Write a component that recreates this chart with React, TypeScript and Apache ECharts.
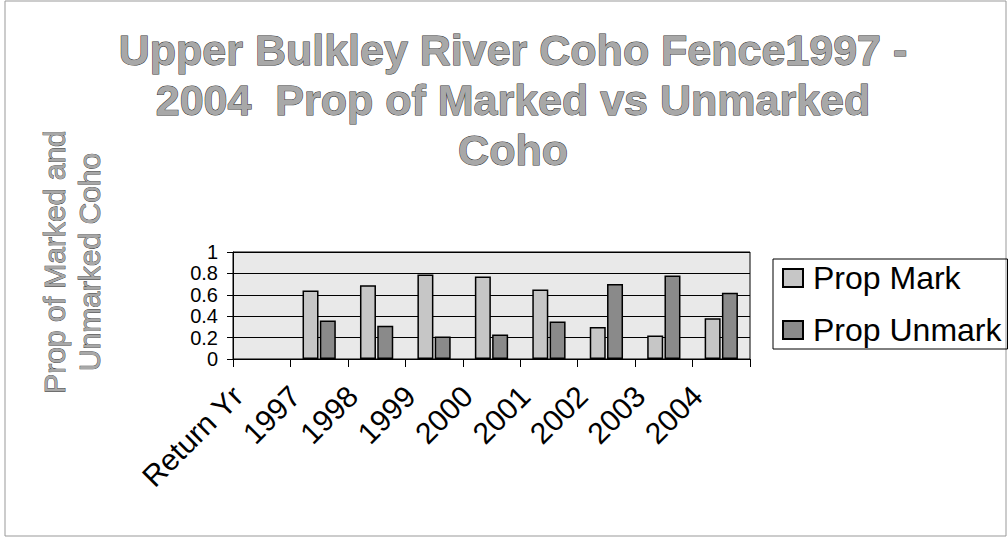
import React, { useEffect, useRef } from "react";
import * as echarts from "echarts";

const categories = ["Return Yr", "1997", "1998", "1999", "2000", "2001", "2002", "2003", "2004"];
const propMark = [null, 0.64, 0.69, 0.79, 0.77, 0.65, 0.3, 0.22, 0.38];
const propUnmark = [null, 0.36, 0.31, 0.21, 0.23, 0.35, 0.7, 0.78, 0.62];
const seriesNames = ["Prop Mark", "Prop Unmark"];
const titleText = "Upper Bulkley River Coho Fence1997 -\n2004  Prop of Marked vs Unmarked\nCoho";
const yTitleText = "Prop of Marked and\nUnmarked Coho";

export default function App() {
  const ref = useRef<HTMLDivElement>(null);
  useEffect(() => {
    if (!ref.current) return;
    const chart = echarts.init(ref.current, null, { renderer: "svg" });
    const font = "'Liberation Sans', Arial, sans-serif";
    chart.setOption({
      animation: false,
      backgroundColor: "#ffffff",
      textStyle: { fontFamily: font },
      grid: {
        left: 233,
        top: 252,
        width: 517,
        height: 107,
        show: true,
        backgroundColor: "#e9e9e9",
        borderColor: "#000",
        borderWidth: 1,
      },
      legend: {
        orient: "vertical",
        left: 773,
        top: 259,
        padding: [2, 6, 2, 9],
        itemGap: 18,
        itemWidth: 20,
        itemHeight: 18,
        icon: "rect",
        borderColor: "#000",
        borderWidth: 1,
        textStyle: { fontSize: 32, color: "#000", lineHeight: 34, fontFamily: font, padding: [0, 0, 0, 5] },
        data: seriesNames,
      },
      xAxis: {
        type: "category",
        data: categories,
        axisLine: { show: true, lineStyle: { color: "#000", width: 1 } },
        axisTick: { show: true, length: 8, lineStyle: { color: "#000" } },
        axisLabel: {
          interval: 0,
          rotate: 45,
          margin: 8,
          fontSize: 30,
          color: "#000",
          fontFamily: font,
          padding: [0, 34, 0, 0],
        },
      },
      yAxis: {
        type: "value",
        min: 0,
        max: 1,
        interval: 0.2,
        axisLine: { show: true, lineStyle: { color: "#000" } },
        axisTick: { show: true, length: 6, lineStyle: { color: "#000" } },
        splitLine: { show: true, lineStyle: { color: "#000", width: 1 } },
        axisLabel: {
          fontSize: 20,
          lineHeight: 17,
          color: "#000",
          margin: 15,
          fontFamily: font,
          showMinLabel: true,
          showMaxLabel: true,
          hideOverlap: false,
        },
      },
      graphic: [
        {
          type: "rect",
          shape: { x: 5, y: 1, width: 1001, height: 535 },
          style: { fill: "none", stroke: "#999", lineWidth: 1 },
          silent: true,
        },
        {
          type: "text",
          x: 513,
          y: 25,
          style: {
            text: titleText,
            align: "center",
            verticalAlign: "top",
            font: `bold 43px ${font}`,
            lineHeight: 50,
            fill: "#a8a8a8",
            stroke: "#333",
            lineWidth: 1,
          },
        },
        {
          type: "text",
          x: 72,
          y: 262,
          rotation: Math.PI / 2,
          style: {
            text: yTitleText,
            align: "center",
            verticalAlign: "middle",
            font: `30px ${font}`,
            lineHeight: 35,
            fill: "#a8a8a8",
            stroke: "#333",
            lineWidth: 0.8,
          },
        },
      ],
      series: [
        {
          name: seriesNames[0],
          type: "bar",
          data: propMark,
          barWidth: 16,
          barGap: "8%",
          itemStyle: { color: "#c6c6c6", borderColor: "#000", borderWidth: 1.5 },
        },
        {
          name: seriesNames[1],
          type: "bar",
          data: propUnmark,
          barWidth: 16,
          barGap: "8%",
          itemStyle: { color: "#8a8a8a", borderColor: "#000", borderWidth: 1.5 },
        },
      ],
    });
    return () => chart.dispose();
  }, []);
  return <div ref={ref} style={{ position: "fixed", left: 0, top: 0, width: 1008, height: 537 }} />;
}
